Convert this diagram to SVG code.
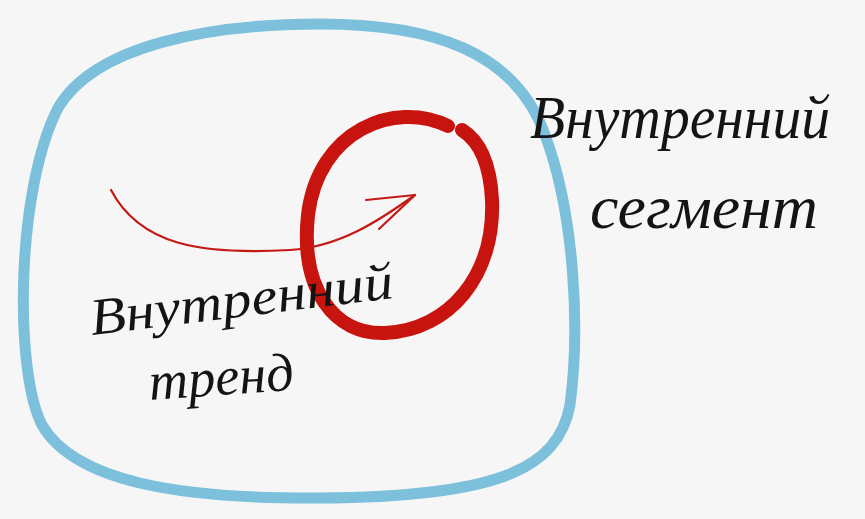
<svg xmlns="http://www.w3.org/2000/svg" width="865" height="519" viewBox="0 0 865 519">
  <style>
    .hand { font-family: "Liberation Serif", "DejaVu Serif", serif; font-style: italic; fill: #141414; }
    .outer { fill: none; stroke: #7cc0dc; stroke-width: 11; stroke-linejoin: round; }
    .inner { fill: none; stroke: #c8140f; stroke-width: 14; stroke-linecap: round; }
    .conn { fill: none; stroke: #c41a14; stroke-width: 2.2; stroke-linecap: round; stroke-linejoin: round; }
  </style>
  <rect width="865" height="519" fill="#f6f6f6"/>
  <g id="outer-segment">
    <path class="outer" d="M 58,108 C 95,45 210,24 320,24 C 430,24 515,50 545,135 C 575,215 580,330 570,405 C 558,470 495,497 320,498 C 180,499 75,482 42,425 C 14,370 16,190 58,108 Z"/>
  </g>
  <g id="inner-segment">
    <path class="inner" d="M 448,126 C 395,100 318,130 308,215 C 300,290 335,335 385,333 C 450,330 495,275 492,200 C 490,160 478,140 462,130"/>
  </g>
  <g id="connectors">
    <path class="conn" d="M 111,190 C 140,245 200,255 290,250 C 340,247 380,220 415,195"/>
    <path class="conn" d="M 366,200 L 415,195 L 379,229"/>
  </g>
  <g id="label-trend">
    <text class="hand" transform="rotate(-7 92 335)" x="92" y="335" font-size="52" textLength="305" lengthAdjust="spacingAndGlyphs">Внутренний</text>
    <text class="hand" transform="rotate(-4 150 400)" x="150" y="400" font-size="54" textLength="145" lengthAdjust="spacingAndGlyphs">тренд</text>
  </g>
  <g id="label-segment">
    <text class="hand" x="530" y="138" font-size="62" textLength="300" lengthAdjust="spacingAndGlyphs">Внутренний</text>
    <text class="hand" x="590" y="228" font-size="62" textLength="228" lengthAdjust="spacingAndGlyphs">сегмент</text>
  </g>
</svg>
